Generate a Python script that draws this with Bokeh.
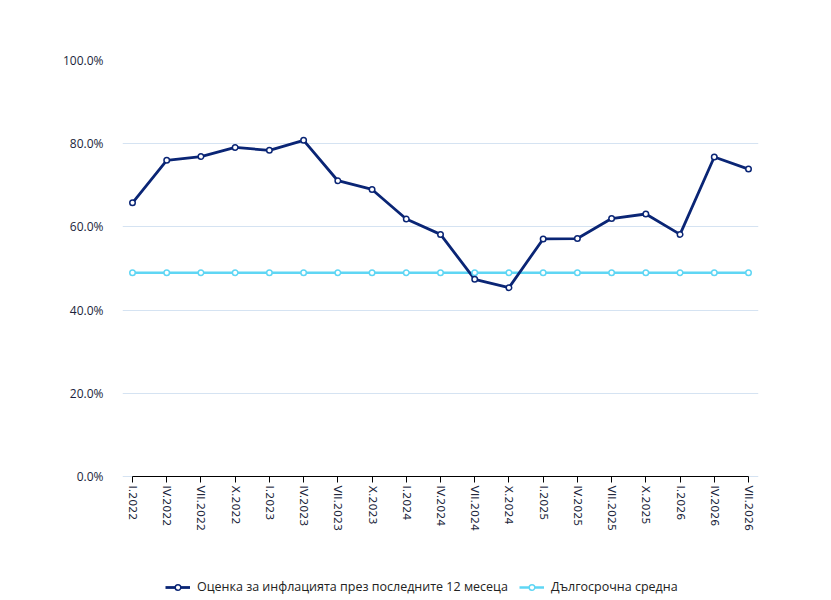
from bokeh.plotting import figure
from bokeh.models import Range1d, FixedTicker, Legend, LegendItem, ColumnDataSource
from bokeh.embed import file_html
from bokeh.resources import INLINE

categories = ["I.2022", "IV.2022", "VII.2022", "X.2022", "I.2023", "IV.2023", "VII.2023",
              "X.2023", "I.2024", "IV.2024", "VII.2024", "X.2024", "I.2025", "IV.2025",
              "VII.2025", "X.2025", "I.2026", "IV.2026", "VII.2026"]
inflation_estimate = [65.8, 76.0, 76.9, 79.1, 78.4, 80.8, 71.1, 69.0, 61.9, 58.2,
                      47.4, 45.4, 57.1, 57.2, 62.0, 63.1, 58.2, 76.8, 73.9]
long_term_average = [49.0, 49.0, 49.0, 49.0, 49.0, 49.0, 49.0, 49.0, 49.0, 49.0,
                     49.0, 49.0, 49.0, 49.0, 49.0, 49.0, 49.0, 49.0, 49.0]
y_ticks = [0, 20, 40, 60, 80, 100]
y_tick_labels = ["0.0%", "20.0%", "40.0%", "60.0%", "80.0%", "100.0%"]
series_names = ["Оценка за инфлацията през последните 12 месеца", "Дългосрочна средна"]

DARK = "#0a2575"
LIGHT = "#5fd6f4"

x = list(range(len(categories)))
src = ColumnDataSource(dict(x=x, est=inflation_estimate, avg=long_term_average))

# frame is 10px wider on each side than the plotted span so edge labels are not clipped
n = len(categories) - 1
pad = 10 / (616 / n)
p = figure(width=831, height=600, output_backend="svg", toolbar_location=None,
           x_range=Range1d(-pad, n + pad), y_range=Range1d(-29.81, 100),
           min_border_left=122, min_border_right=73, min_border_top=60, min_border_bottom=0)
p.outline_line_color = None
p.background_fill_color = "white"
p.border_fill_color = "white"

l2 = p.line("x", "avg", source=src, line_color=LIGHT, line_width=2.5)
s2 = p.scatter("x", "avg", source=src, size=5.5, fill_color="white", line_color=LIGHT,
               line_width=1.5, level="overlay")
l1 = p.line("x", "est", source=src, line_color=DARK, line_width=2.8)
s1 = p.scatter("x", "est", source=src, size=5.5, fill_color="white", line_color=DARK,
               line_width=1.5, level="overlay")

# x axis pinned at value 0
p.xaxis.fixed_location = 0
p.xaxis.bounds = (0, n)
p.xaxis.ticker = FixedTicker(ticks=x)
p.xaxis.major_label_overrides = {i: c for i, c in zip(x, categories)}
p.xaxis.major_label_orientation = "vertical"
p.xaxis.axis_line_color = "black"
p.xaxis.major_tick_line_color = "black"
p.xaxis.major_tick_out = 6
p.xaxis.major_tick_in = 0
p.xaxis.minor_tick_line_color = None
p.xaxis.major_label_text_font = "DejaVu Sans"
p.xaxis.major_label_text_font_size = "11px"
p.xaxis.major_label_text_color = "#1b1f3b"
p.xaxis.major_label_standoff = 3
p.xaxis.level = "overlay"

p.yaxis.ticker = FixedTicker(ticks=y_ticks)
p.yaxis.major_label_overrides = {t: l for t, l in zip(y_ticks, y_tick_labels)}
p.yaxis.axis_line_color = None
p.yaxis.major_tick_line_color = None
p.yaxis.minor_tick_line_color = None
p.yaxis.major_tick_out = 0
p.yaxis.major_tick_in = 0
p.yaxis.major_label_standoff = 19
p.yaxis.major_label_text_font = "Open Sans"
p.yaxis.major_label_text_font_size = "12px"
p.yaxis.major_label_text_color = "#1b1f3b"

p.xgrid.grid_line_color = None
p.ygrid.grid_line_color = "#d5e3f2"
p.ygrid.grid_line_width = 1
p.ygrid.bounds = (0, n)

legend = Legend(items=[LegendItem(label=series_names[0], renderers=[l1, s1]),
                       LegendItem(label=series_names[1], renderers=[l2, s2])],
                orientation="horizontal", location=(43, 5),
                glyph_width=25, glyph_height=14, label_height=14, label_standoff=7,
                spacing=11, padding=0, margin=0,
                label_text_font="Open Sans", label_text_font_size="12.5px",
                label_text_color="#222222", border_line_color=None,
                background_fill_alpha=0)
p.add_layout(legend, "center")

open("out.html", "w").write(file_html(p, INLINE))
